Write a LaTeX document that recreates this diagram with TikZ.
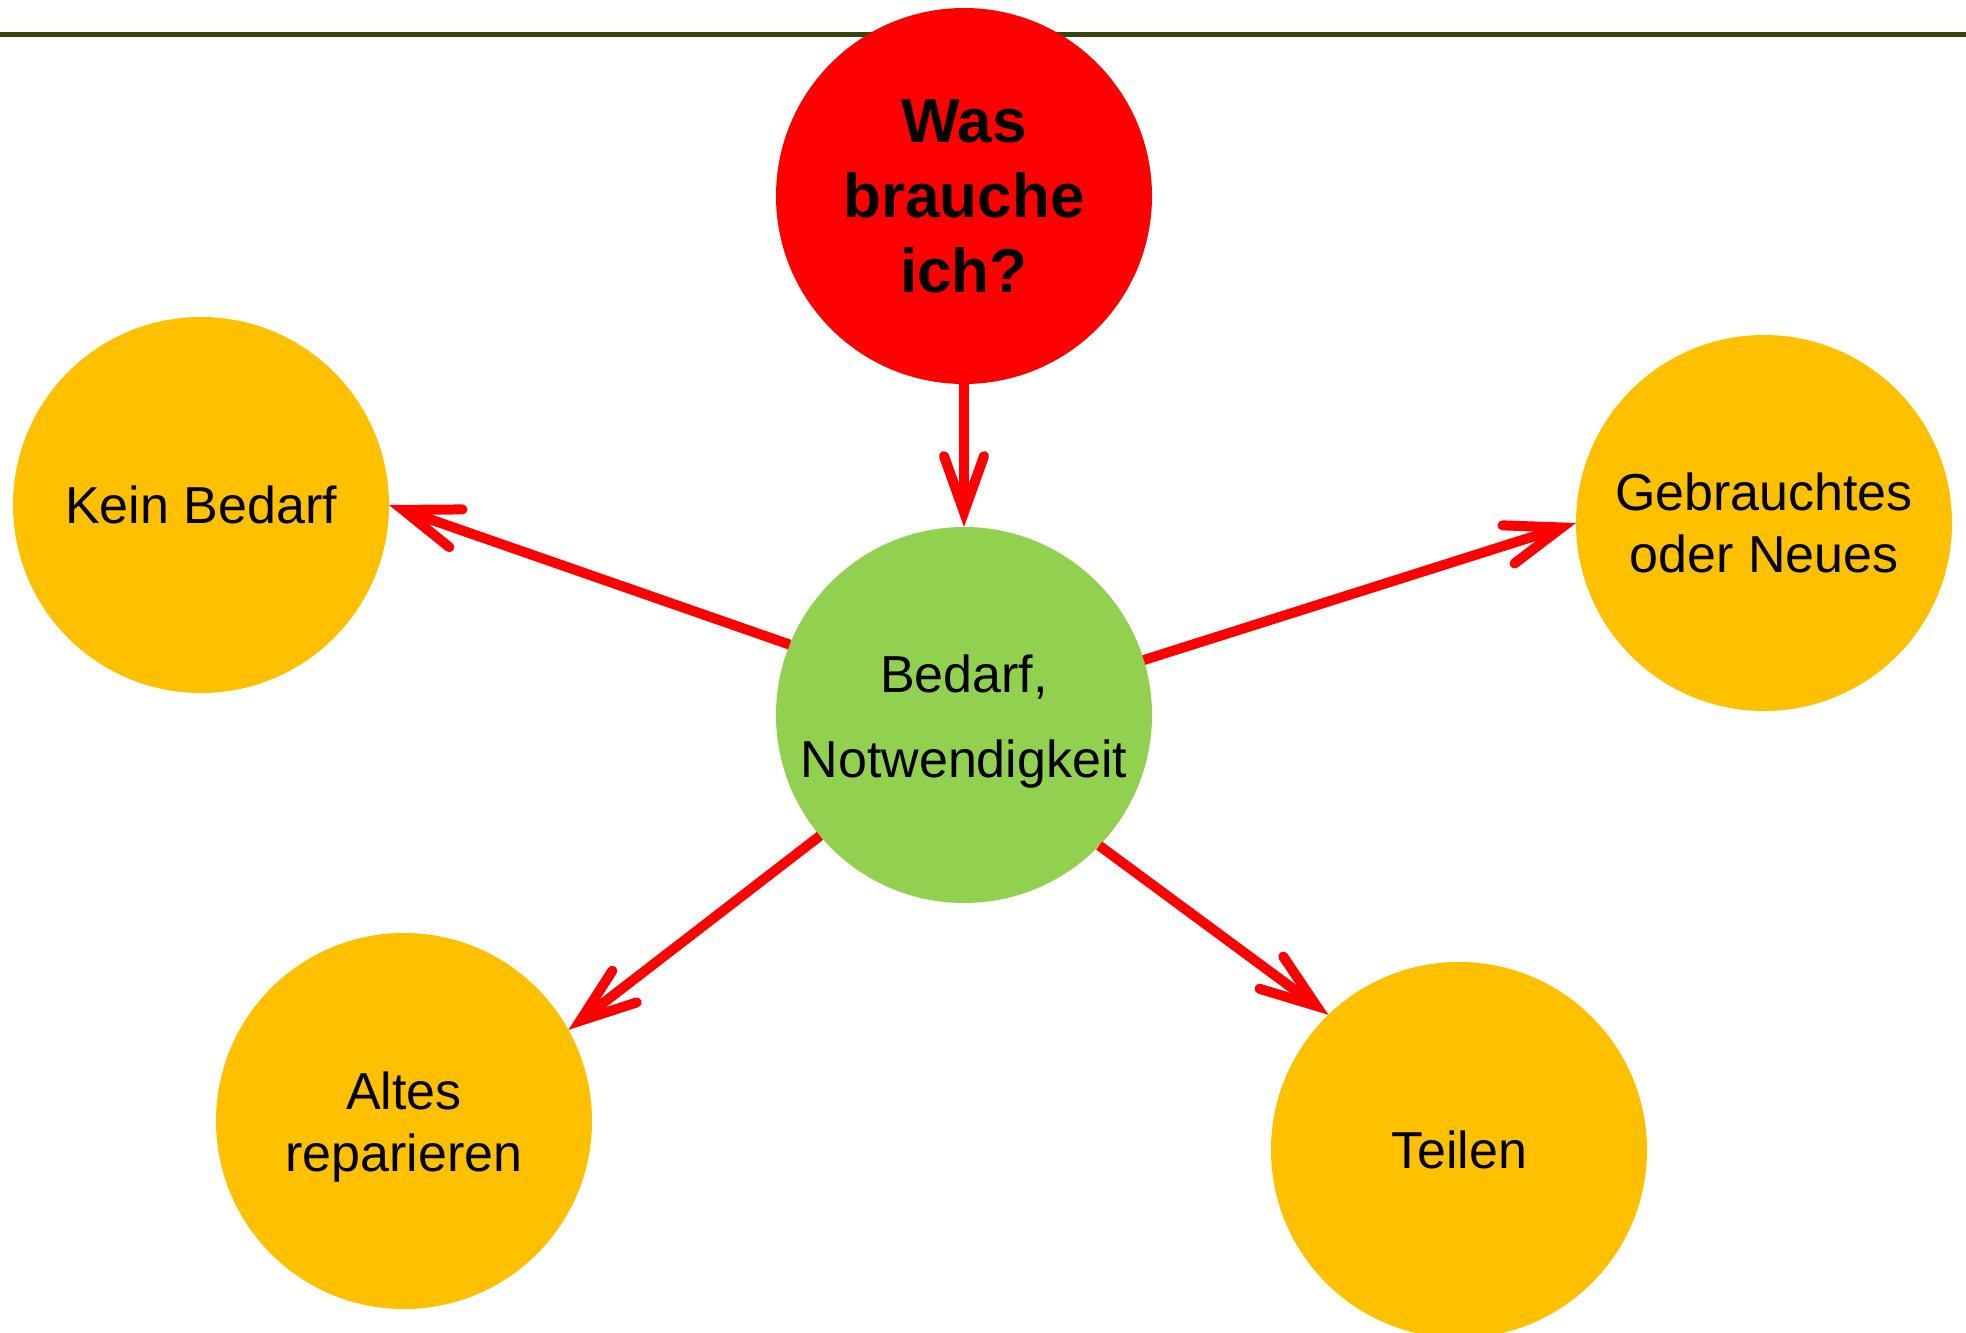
\documentclass[tikz,border=0pt]{standalone}
\usepackage{fontspec}
\setmainfont{Liberation Sans}
\usetikzlibrary{arrows.meta}

\definecolor{olivebar}{RGB}{56,70,12}
\definecolor{needgreen}{RGB}{146,208,80}
\definecolor{choiceorange}{RGB}{255,192,0}

\begin{document}
\begin{tikzpicture}[x=1pt, y=-1pt, line width=10pt,
	arrows={-Straight Barb[length=56pt,width=40pt,line cap=round,line join=miter]},
	bubble/.style={circle, minimum size=376pt, inner sep=0pt, outer sep=0pt, align=center,
		font=\fontsize{52}{62}\selectfont}]
	\useasboundingbox (0,0) rectangle (1966,1333);
	\draw[-, olivebar, line width=5pt] (0,34) -- (1966,34);

	\node[bubble, fill=red, font=\fontsize{62}{75}\selectfont\bfseries] (Q) at (964,196) {Was\\brauche\\ich?};
	\node[bubble, fill=needgreen] (N) at (964,715) {\raisebox{0pt}[50pt][0pt]{Bedarf,}\\[23pt]Notwendigkeit};
	\node[bubble, fill=choiceorange] (K) at (201,505) {Kein Bedarf};
	\node[bubble, fill=choiceorange] (G) at (1764,523) {Gebrauchtes\\oder Neues};
	\node[bubble, fill=choiceorange] (A) at (404,1121) {\raisebox{0pt}[50pt][0pt]{Altes}\\reparieren};
	\node[bubble, fill=choiceorange] (T) at (1459,1150) {Teilen};

	\draw[red] (Q.south) to (N.north);
	\draw[red] (N.158.4) to (K.east);
	\draw[red] (N.17.8) to (G.west);
	\draw[red] (N.220.6) to (A.29.8);
	\draw[red] (N.316) to (T.134.7);
\end{tikzpicture}
\end{document}
